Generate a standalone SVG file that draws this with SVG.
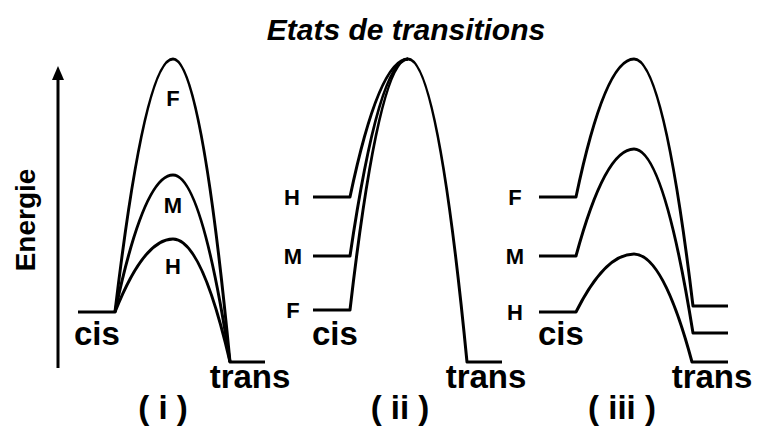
<svg xmlns="http://www.w3.org/2000/svg" width="758" height="428" viewBox="0 0 758 428">
<style>
.c{fill:none;stroke:#000;stroke-width:3;stroke-linejoin:round;stroke-linecap:butt}
.t{font-family:"Liberation Sans",Arial,sans-serif;font-weight:bold;fill:#000}
.lbl{font-size:22px;text-anchor:middle}
.big{font-size:33px}
.num{font-size:33px;text-anchor:middle}
</style>
<rect width="758" height="428" fill="#fff"/>
<text class="t" x="406" y="40" font-size="30" font-style="italic" text-anchor="middle">Etats de transitions</text>
<g id="axis">
<line x1="58" y1="368" x2="58" y2="78" stroke="#000" stroke-width="3"/>
<polygon points="58,66 52,80 64,80" fill="#000"/>
<text class="t" font-size="28" text-anchor="middle" transform="translate(35,220) rotate(-90)">Energie</text>
</g>
<g id="connectors">
<g id="panel-i-curves">
<path class="c" d="M78,312 H115 Q145,59 173,59 Q201,59 230,362 H265"/>
<path class="c" d="M115,312 Q144,175 173,175 Q201.5,175 230,362"/>
<path class="c" d="M115,312 Q144,239 173,239 Q201.5,239 230,362"/>
</g>
<g id="panel-ii-curves">
<path class="c" d="M313,197 H350 Q379,59 408,59 Q437.5,59 467,362 H502"/>
<path class="c" d="M313,256 H350 Q379,59 408,59"/>
<path class="c" d="M313,310 H350 Q379,59 408,59"/>
</g>
<g id="panel-iii-curves">
<path class="c" d="M539,197 H576 Q605,59 634,59 Q663.5,59 693,306 H728"/>
<path class="c" d="M539,256 H576 Q605,149 634,149 Q663.5,149 693,333 H728"/>
<path class="c" d="M539,312 H576 Q605,254 634,254 Q663,254 692,362 H728"/>
</g>
</g>
<g id="panel-i">
<text class="t lbl" x="173" y="106">F</text>
<text class="t lbl" x="173" y="213">M</text>
<text class="t lbl" x="173" y="274">H</text>
<text class="t big" x="74" y="345">cis</text>
<text class="t big" x="250" y="388" text-anchor="middle">trans</text>
<text class="t num" x="163" y="419">( i )</text>
</g>
<g id="panel-ii">
<text class="t lbl" x="292" y="205">H</text>
<text class="t lbl" x="293" y="264">M</text>
<text class="t lbl" x="293" y="318">F</text>
<text class="t big" x="312" y="345">cis</text>
<text class="t big" x="486" y="388" text-anchor="middle">trans</text>
<text class="t num" x="400" y="419">( ii )</text>
</g>
<g id="panel-iii">
<text class="t lbl" x="515" y="205">F</text>
<text class="t lbl" x="515" y="264">M</text>
<text class="t lbl" x="515" y="320">H</text>
<text class="t big" x="538" y="345">cis</text>
<text class="t big" x="712" y="388" text-anchor="middle">trans</text>
<text class="t num" x="622" y="419">( iii )</text>
</g>
</svg>
